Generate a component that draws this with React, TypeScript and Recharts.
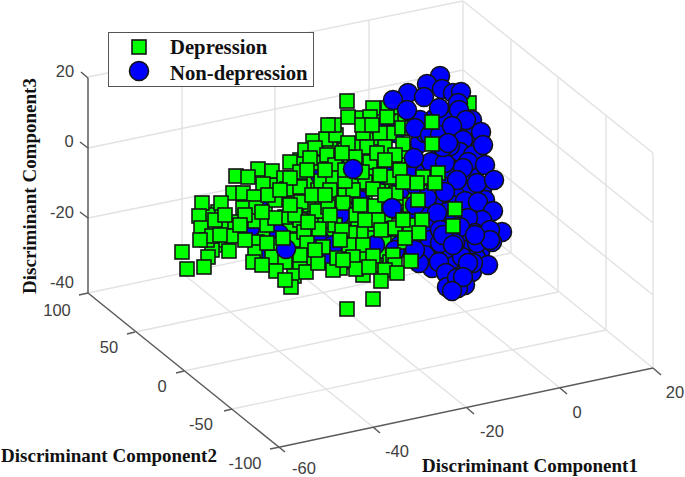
import { ScatterChart, Scatter, XAxis, YAxis, ReferenceLine, ReferenceDot, Legend } from "recharts";

// Everything in its viewing plane, since a 3D view only gives two readable values per point.
type Pt = [number, number];
type Seg = [number, number, number, number];
type Lab = [string, number, number];

const seriesNames = ["Depression", "Non-depression"];

const gridLines: Seg[] = [
  // back wall
  [88, 77, 463, 1], [88, 148, 463, 70], [88, 218, 463, 142], [88, 293, 463, 214],
  [182, 58, 182, 273], [275, 39, 275, 254], [369, 20, 369, 234], [463, 1, 463, 214],
  // right wall
  [463, 1, 653, 153], [463, 70, 653, 223], [463, 142, 653, 295], [463, 214, 653, 368],
  [511, 39, 511, 253], [558, 78, 558, 292], [606, 115, 606, 330], [653, 153, 653, 368],
  // floor
  [135, 332, 511, 253], [184, 371, 558, 292], [232, 409, 606, 330],
  [182, 273, 373, 427], [275, 254, 467, 408], [369, 234, 560, 388],
];

const axisLines: Seg[] = [
  [88, 78, 88, 293], [88, 293, 285, 452], [280, 447, 653, 368],
  [81, 72, 88, 78], [80, 142, 88, 148], [80, 212, 88, 218], [79, 295, 88, 293],
  [127, 334, 135, 332], [176, 373, 184, 371], [224, 411, 232, 409], [270, 449, 280, 447],
  [373, 427, 380, 433], [467, 408, 474, 414], [560, 388, 567, 394], [653, 368, 661, 375],
];

const tickLabels: Lab[] = [
  ["20", 65, 71], ["0", 69, 141], ["-20", 62, 212], ["-40", 62, 282],
  ["100", 57, 310], ["50", 109, 347], ["0", 162, 386], ["-50", 201, 424], ["-100", 245, 463],
  ["-60", 304, 468], ["-40", 397, 451], ["-20", 492, 431], ["0", 577, 412], ["20", 675, 392],
];

const titles: Lab[] = [
  ["Discriminant Component2", 109, 455],
  ["Discriminant Component1", 530, 465],
];
const zTitle: Lab = ["Discriminant Component3", 29, 186];

const greenBase: Pt[] = [
  [469, 103], [436, 128],
  [322, 145], [333, 148], [345, 150], [358, 145], [375, 138], [397, 120], [405, 118], [378, 118], [362, 118],
  [300, 160], [312, 172], [322, 168], [338, 160], [350, 168], [362, 160], [372, 170], [384, 168], [397, 165], [408, 152], [405, 165], [345, 158], [330, 148],
  [275, 185], [308, 183], [318, 190], [338, 175], [352, 178], [365, 182], [380, 185], [392, 190], [407, 192], [420, 190], [428, 178], [298, 195],
  [250, 203], [265, 205], [282, 198], [295, 208], [310, 205], [322, 200], [335, 205], [350, 200], [365, 197], [385, 205], [395, 208], [405, 200], [428, 212], [218, 212], [208, 215],
  [210, 228], [228, 230], [248, 222], [262, 232], [275, 230], [290, 225], [300, 220], [315, 218], [325, 225], [345, 218], [358, 225], [370, 228], [385, 215], [400, 212], [412, 235], [428, 222],
  [215, 245], [225, 240], [240, 235], [250, 232], [265, 235], [295, 248], [310, 238], [330, 235], [335, 245], [355, 238], [372, 238], [385, 243], [398, 240], [415, 245], [425, 238], [212, 250],
  [265, 255], [280, 255], [262, 250], [298, 262], [310, 258], [325, 258], [345, 262], [362, 255], [378, 262], [385, 255], [405, 250],
  [300, 268], [330, 262], [340, 268], [363, 275], [375, 265], [390, 262],
];

const blueBack: Pt[] = [
  [243, 232], [232, 228], [279, 234], [304, 245], [258, 205], [340, 215], [320, 240], [360, 200],
  [380, 128], [395, 133], [375, 160], [385, 175], [345, 250], [375, 245], [410, 170], [400, 190],
  [420, 143], [425, 133], [410, 215], [400, 245], [335, 165], [320, 175], [327, 258], [333, 245],
  [263, 257], [250, 228], [395, 250], [415, 185], [425, 240], [430, 255],
];

const greenMain: Pt[] = [
  [236, 176], [258, 169], [272, 171], [290, 162], [248, 177], [263, 184], [284, 178], [300, 172],
  [233, 193], [243, 193], [254, 197], [202, 203], [221, 203], [287, 189], [300, 187], [275, 200], [301, 202],
  [243, 208], [256, 208], [317, 211], [328, 207], [321, 181], [313, 141], [326, 139], [336, 135], [305, 150],
  [315, 148], [317, 163], [327, 155], [335, 165], [310, 158], [307, 170], [333, 178], [290, 178],
  [199, 216], [201, 228], [207, 240], [212, 236], [182, 252], [187, 269], [208, 257], [204, 267], [229, 251],
  [223, 226], [215, 220], [235, 222], [232, 236], [220, 235], [255, 221], [267, 225], [257, 242], [255, 252], [253, 262],
  [272, 245], [272, 257], [285, 217], [295, 215], [275, 218], [285, 262], [276, 271], [294, 276], [291, 287], [285, 280],
  [306, 272], [318, 263], [295, 240], [304, 232], [319, 229], [323, 247], [308, 222], [335, 225], [333, 270],
  [307, 243], [337, 258], [267, 243], [245, 215], [262, 212], [290, 205], [312, 195], [345, 195], [330, 190],
  [347, 101], [348, 117], [373, 108], [388, 108], [398, 107], [370, 117], [387, 117], [363, 133], [390, 133], [380, 133],
  [402, 128], [412, 128], [403, 144], [385, 147], [367, 147], [355, 157], [348, 143], [395, 155], [370, 162], [377, 153],
  [342, 153], [391, 177], [373, 189], [353, 190], [345, 181], [396, 193],
  [343, 203], [375, 206], [356, 215], [378, 220], [393, 229], [361, 233],
  [350, 233], [342, 230], [349, 245], [363, 245], [405, 242], [428, 247], [353, 257], [373, 256],
  [393, 255], [395, 265], [356, 269], [369, 267], [385, 270], [397, 273], [381, 281], [343, 260], [395, 228], [381, 230],
  [362, 125], [334, 125], [372, 125], [328, 125], [325, 170], [345, 170], [362, 172], [380, 175], [360, 205],
  [385, 195], [330, 215], [340, 240], [365, 220], [410, 205], [435, 235], [410, 225], [325, 195], [300, 255], [315, 250],
  [245, 240], [262, 265], [240, 225], [268, 195], [280, 190], [200, 240], [225, 215], [415, 160], [400, 170], [385, 160],
];

const blueFront: Pt[] = [
  [435, 118], [445, 120], [420, 120], [415, 128], [430, 135], [440, 135], [455, 135], [470, 135], [472, 120], [465, 128],
  [478, 150], [440, 155], [425, 172], [440, 178], [452, 170], [470, 175], [482, 190], [470, 190], [455, 195], [440, 205],
  [430, 215], [452, 205], [485, 200], [475, 212], [458, 215], [445, 225], [430, 225], [470, 225], [480, 235], [465, 240],
  [450, 235], [430, 240], [425, 255], [445, 252], [465, 250], [480, 252], [432, 268], [455, 265], [472, 272], [450, 280],
  [465, 285], [476, 258], [485, 215],
  [440, 76], [427, 84], [408, 93], [393, 100], [442, 89], [424, 97], [453, 93], [461, 92], [407, 110], [439, 108],
  [458, 103], [459, 110], [466, 120], [452, 126], [481, 132], [463, 140], [431, 162], [445, 163], [460, 152], [473, 155],
  [450, 146], [483, 145], [468, 162], [485, 165], [477, 183], [494, 180], [463, 168], [457, 180], [445, 192], [465, 201],
  [478, 202], [427, 198], [415, 205], [493, 211], [482, 220], [468, 218], [502, 232], [475, 233], [447, 212], [437, 213],
  [460, 227], [490, 230], [440, 230], [443, 147], [448, 143], [462, 257], [488, 265], [439, 262], [446, 273], [419, 263],
  [447, 287], [458, 288], [462, 275], [473, 263], [457, 278], [477, 243], [440, 243], [492, 242], [455, 243],
  [415, 250], [443, 235], [468, 263], [453, 245], [463, 277], [490, 240], [475, 235], [414, 158], [452, 291],
  [353, 169], [392, 208], [286, 249],
];

const greenTop: Pt[] = [
  [438, 173], [423, 177], [417, 183], [435, 183], [403, 182], [418, 200], [403, 220], [422, 220], [419, 233], [405, 238],
  [432, 122], [432, 144], [455, 209], [453, 226], [411, 261], [373, 299], [347, 309], [283, 238],
];

const toRows = (pts: Pt[]) => pts.map(([x, y]) => ({ x, y }));

const SquareMark = (p: any) => (
  <rect x={p.cx - 7} y={p.cy - 7} width={14} height={14} fill="#00ff00" stroke="#141414" strokeWidth={1.6} />
);
const CircleMark = (p: any) => (
  <circle cx={p.cx} cy={p.cy} r={9.5} fill="#0000ff" stroke="#141414" strokeWidth={1.6} />
);

const serif = "'Liberation Serif', serif";

const LegendBox = () => (
  <div style={{ width: 204, height: 53, border: "1px solid #555", background: "#fff", position: "relative", fontFamily: serif, fontWeight: 700, fontSize: 20.7, lineHeight: "22px", color: "#111" }}>
    <svg width={60} height={53} style={{ position: "absolute", left: 0, top: 0 }}>
      <rect x={23} y={7} width={14} height={14} fill="#00ff00" stroke="#141414" strokeWidth={1.6} />
      <circle cx={30} cy={38} r={9.5} fill="#0000ff" stroke="#141414" strokeWidth={1.6} />
    </svg>
    <div style={{ position: "absolute", left: 61, top: 3 }}>{seriesNames[0]}</div>
    <div style={{ position: "absolute", left: 61, top: 29 }}>{seriesNames[1]}</div>
  </div>
);

export default function App() {
  return (
    <div style={{ position: "absolute", left: 0, top: 0, width: 685, height: 477 }}>
      <ScatterChart width={685} height={477} margin={{ top: 0, right: 0, bottom: 0, left: 0 }}>
        <XAxis type="number" dataKey="x" domain={[0, 685]} hide />
        <YAxis type="number" dataKey="y" domain={[0, 477]} reversed hide />
        {gridLines.map(([x1, y1, x2, y2], i) => (
          <ReferenceLine key={`g${i}`} segment={[{ x: x1, y: y1 }, { x: x2, y: y2 }]} stroke="#e2e2e2" strokeWidth={1.4} ifOverflow="visible" />
        ))}
        {axisLines.map(([x1, y1, x2, y2], i) => (
          <ReferenceLine key={`a${i}`} segment={[{ x: x1, y: y1 }, { x: x2, y: y2 }]} stroke="#5a5a5a" strokeWidth={1.5} ifOverflow="visible" />
        ))}
        {tickLabels.map(([t, x, y], i) => (
          <ReferenceDot key={`t${i}`} x={x} y={y} r={0} ifOverflow="visible"
            label={{ value: t, position: "center", fill: "#404040", fontSize: 16.5, fontFamily: "'Liberation Sans', sans-serif" }} />
        ))}
        {titles.map(([t, x, y], i) => (
          <ReferenceDot key={`n${i}`} x={x} y={y} r={0} ifOverflow="visible"
            label={{ value: t, position: "center", fill: "#111", fontSize: 19, fontWeight: 700, fontFamily: serif }} />
        ))}
        <ReferenceDot x={zTitle[1]} y={zTitle[2]} r={0} ifOverflow="visible"
          label={{ value: zTitle[0], position: "center", angle: -90, fill: "#111", fontSize: 19, fontWeight: 700, fontFamily: serif }} />
        <Scatter name={seriesNames[0]} data={toRows(greenBase)} shape={SquareMark} isAnimationActive={false} />
        <Scatter name={seriesNames[1]} data={toRows(blueBack)} shape={CircleMark} isAnimationActive={false} />
        <Scatter name={seriesNames[0]} data={toRows(greenMain)} shape={SquareMark} isAnimationActive={false} />
        <Scatter name={seriesNames[1]} data={toRows(blueFront)} shape={CircleMark} isAnimationActive={false} />
        <Scatter name={seriesNames[0]} data={toRows(greenTop)} shape={SquareMark} isAnimationActive={false} />
        <Legend layout="vertical" align="center" verticalAlign="middle" content={LegendBox}
          wrapperStyle={{ position: "absolute", left: 108, top: 32, width: 206, height: 55, margin: 0 }} />
      </ScatterChart>
    </div>
  );
}
